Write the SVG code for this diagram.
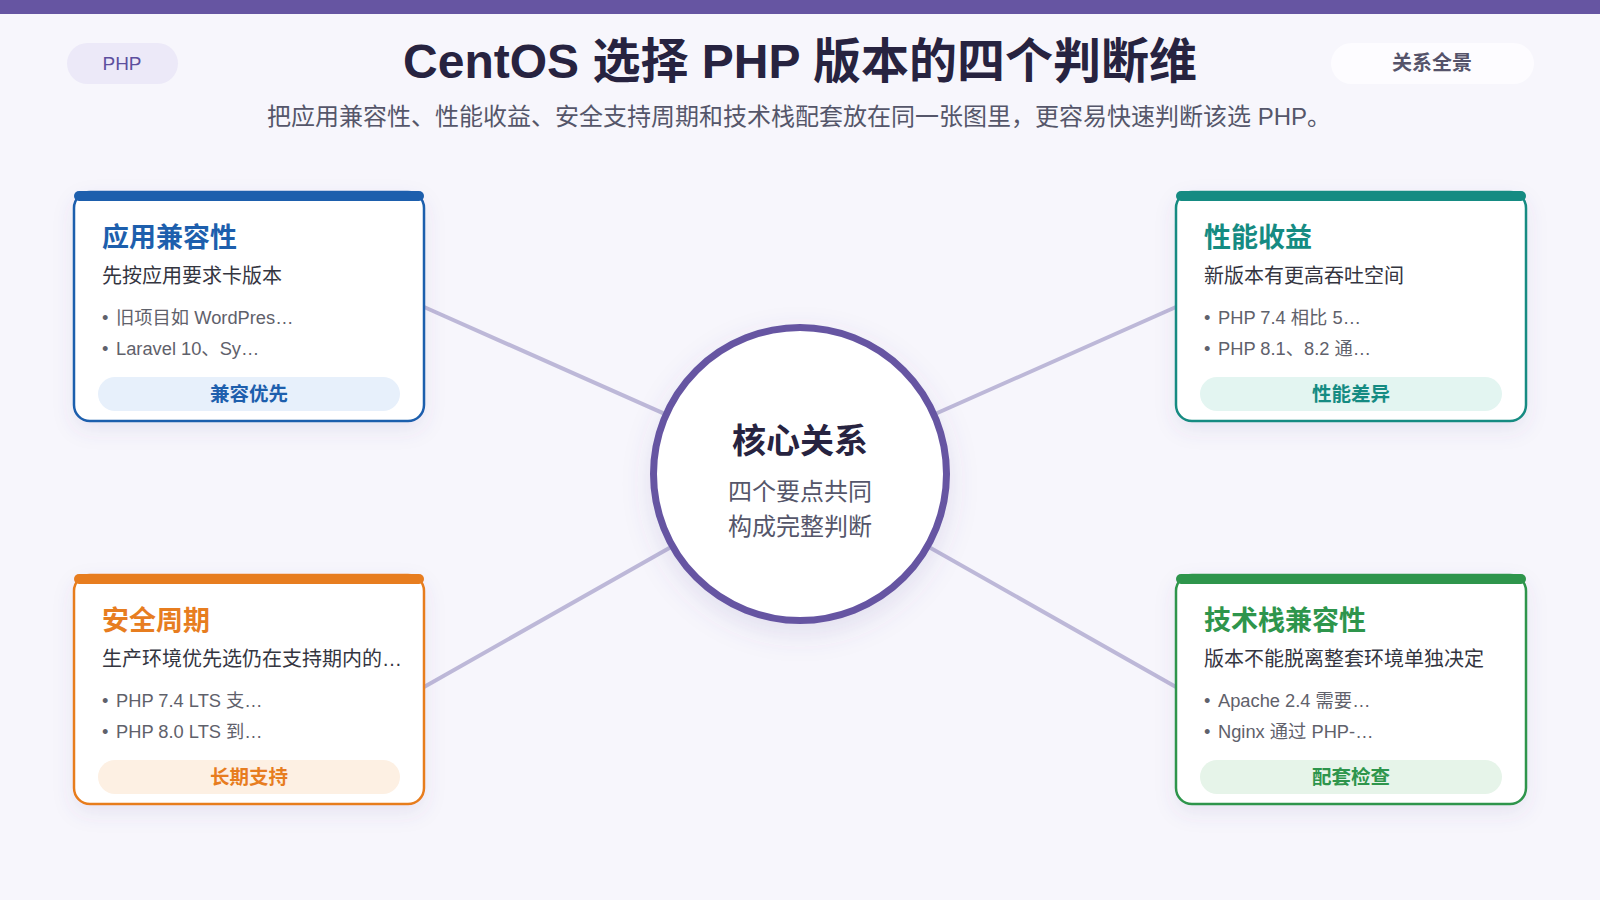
<svg xmlns="http://www.w3.org/2000/svg" width="1600" height="900" viewBox="0 0 1600 900">
<defs>
<filter id="sh" x="-20%" y="-20%" width="140%" height="150%">
<feDropShadow dx="0" dy="8" stdDeviation="10" flood-color="#5a4f9a" flood-opacity="0.10"/>
</filter>
<filter id="shc" x="-30%" y="-30%" width="160%" height="160%">
<feDropShadow dx="0" dy="10" stdDeviation="14" flood-color="#5a4f9a" flood-opacity="0.14"/>
</filter>
</defs>
<style>
text{font-family:"Liberation Sans","Noto Sans CJK SC",sans-serif;}
.card{fill:#ffffff;stroke-width:2.5;}
.ct{font-size:27px;font-weight:700;}
.cs{font-size:20px;fill:#34353f;}
.cb{font-size:18.3px;fill:#5f616b;}
.bt{font-size:19.5px;font-weight:700;text-anchor:middle;}
.conn{stroke:#bdb8d8;stroke-width:4;stroke-linecap:round;}
</style>
<rect width="1600" height="900" fill="#f7f6fc"/>
<rect x="0" y="0" width="1600" height="14" fill="#6655a2"/>

<g id="php-pill">
<rect x="67" y="43" width="111" height="41" rx="20.5" fill="#ece9f8"/>
<text x="122" y="70" font-size="19" fill="#5d4f9e" text-anchor="middle">PHP</text>
</g>
<g id="title">
<text x="800" y="78" font-size="48" font-weight="700" fill="#272340" text-anchor="middle">CentOS 选择 PHP 版本的四个判断维</text>
<text x="799" y="125" font-size="24" fill="#55566a" text-anchor="middle">把应用兼容性、性能收益、安全支持周期和技术栈配套放在同一张图里，更容易快速判断该选 PHP。</text>
</g>
<g id="view-pill">
<rect x="1331" y="43" width="203" height="41" rx="20.5" fill="#fdfcff"/>
<text x="1432" y="70" font-size="20" font-weight="700" fill="#55536a" text-anchor="middle">关系全景</text>
</g>

<g id="connectors">
<line class="conn" x1="424" y1="307" x2="800" y2="474"/>
<line class="conn" x1="1176" y1="307" x2="800" y2="474"/>
<line class="conn" x1="424" y1="687" x2="800" y2="474"/>
<line class="conn" x1="1176" y1="687" x2="800" y2="474"/>
</g>

<g id="card-compat">
<rect class="card" x="74" y="192" width="350" height="229" rx="16" stroke="#1d5fad" filter="url(#sh)"/>
<rect x="74" y="191" width="350" height="10" rx="5" fill="#1d5fad"/>
<text class="ct" x="102" y="247" fill="#1d5fad">应用兼容性</text>
<text class="cs" x="102" y="283">先按应用要求卡版本</text>
<text class="cb" x="102" y="324">•</text><text class="cb" x="116" y="324">旧项目如 WordPres…</text>
<text class="cb" x="102" y="355">•</text><text class="cb" x="116" y="355">Laravel 10、Sy…</text>
<rect x="98" y="377" width="302" height="34" rx="17" fill="#e7f0fb"/>
<text class="bt" x="249" y="401" fill="#1d5fad">兼容优先</text>
</g>

<g id="card-perf">
<rect class="card" x="1176" y="192" width="350" height="229" rx="16" stroke="#158b82" filter="url(#sh)"/>
<rect x="1176" y="191" width="350" height="10" rx="5" fill="#158b82"/>
<text class="ct" x="1204" y="247" fill="#158b82">性能收益</text>
<text class="cs" x="1204" y="283">新版本有更高吞吐空间</text>
<text class="cb" x="1204" y="324">•</text><text class="cb" x="1218" y="324">PHP 7.4 相比 5…</text>
<text class="cb" x="1204" y="355">•</text><text class="cb" x="1218" y="355">PHP 8.1、8.2 通…</text>
<rect x="1200" y="377" width="302" height="34" rx="17" fill="#e3f5f1"/>
<text class="bt" x="1351" y="401" fill="#158b82">性能差异</text>
</g>

<g id="card-security">
<rect class="card" x="74" y="575" width="350" height="229" rx="16" stroke="#e77d1f" filter="url(#sh)"/>
<rect x="74" y="574" width="350" height="10" rx="5" fill="#e77d1f"/>
<text class="ct" x="102" y="630" fill="#e77d1f">安全周期</text>
<text class="cs" x="102" y="666">生产环境优先选仍在支持期内的…</text>
<text class="cb" x="102" y="707">•</text><text class="cb" x="116" y="707">PHP 7.4 LTS 支…</text>
<text class="cb" x="102" y="738">•</text><text class="cb" x="116" y="738">PHP 8.0 LTS 到…</text>
<rect x="98" y="760" width="302" height="34" rx="17" fill="#fdf0e3"/>
<text class="bt" x="249" y="784" fill="#e77d1f">长期支持</text>
</g>

<g id="card-stack">
<rect class="card" x="1176" y="575" width="350" height="229" rx="16" stroke="#2e954c" filter="url(#sh)"/>
<rect x="1176" y="574" width="350" height="10" rx="5" fill="#2e954c"/>
<text class="ct" x="1204" y="630" fill="#2e954c">技术栈兼容性</text>
<text class="cs" x="1204" y="666">版本不能脱离整套环境单独决定</text>
<text class="cb" x="1204" y="707">•</text><text class="cb" x="1218" y="707">Apache 2.4 需要…</text>
<text class="cb" x="1204" y="738">•</text><text class="cb" x="1218" y="738">Nginx 通过 PHP-…</text>
<rect x="1200" y="760" width="302" height="34" rx="17" fill="#e6f4e9"/>
<text class="bt" x="1351" y="784" fill="#2e954c">配套检查</text>
</g>

<g id="core">
<circle cx="800" cy="474" r="146.5" fill="#ffffff" stroke="#6655a2" stroke-width="7" filter="url(#shc)"/>
<text x="800" y="453" font-size="34" font-weight="700" fill="#272340" text-anchor="middle">核心关系</text>
<text x="800" y="500" font-size="24" fill="#55566a" text-anchor="middle">四个要点共同</text>
<text x="800" y="535" font-size="24" fill="#55566a" text-anchor="middle">构成完整判断</text>
</g>
</svg>
